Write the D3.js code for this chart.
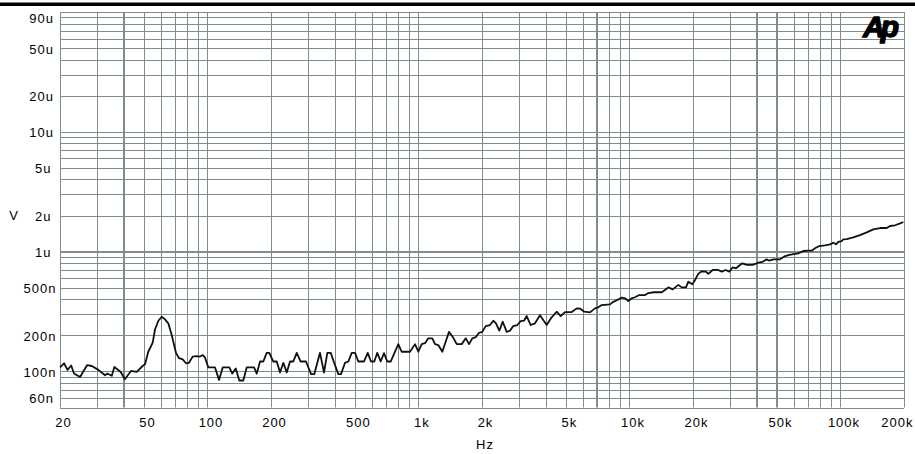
<!DOCTYPE html>
<html>
<head>
<meta charset="utf-8">
<script src="https://cdn.jsdelivr.net/npm/d3@7"></script>
<style>
  html, body { margin: 0; padding: 0; background: #ffffff; }
  svg { display: block; }
  .lbl { font-family: "Liberation Sans", Arial, sans-serif; font-size: 13px; fill: #000; letter-spacing: 1px; }
</style>
</head>
<body>
<svg id="chart" width="915" height="454"></svg>
<script>
// Noise spectrum, 20 Hz – 200 kHz
const freqHz = [
  20, 20.9, 21.7, 22.6, 23.3, 24.9, 26.9, 28.3, 30.4, 32.7, 33.5, 35.2, 36.2, 38.8, 40.6, 43.4, 46.2, 49.3, 50.6, 52.4,
  55.0, 56.4, 58.5, 60.7, 62.9, 65.2, 67.7, 70.9, 73.3, 76.3, 79.1, 81.7, 85.1, 88.9, 92.2, 94.9, 97.3, 100.9, 108.6, 113.4,
  118.1, 126.9, 131.1, 136.1, 141.5, 147.8, 153.4, 166.2, 171.2, 177.5, 183.9, 190.8, 196.3, 205.1, 212.9, 220.7, 228.8, 237.4, 246.1, 255.1,
  264.8, 276.6, 293.1, 309.6, 320.9, 341.4, 356.7, 369.8, 383.7, 399.1, 416.9, 429.4, 448.6, 465.1, 482.7, 500.4, 518.7, 551.9, 574.6, 595.6,
  617.5, 637.9, 662.0, 686.2, 711.4, 738.3, 802.2, 832.5, 911.8, 962.9, 998.2, 1036, 1074, 1113, 1163, 1198, 1241, 1297, 1395, 1452,
  1518, 1603, 1675, 1736, 1800, 1867, 1935, 2006, 2082, 2182, 2263, 2330, 2416, 2507, 2619, 2715, 2814, 2940, 3051, 3163,
  3257, 3403, 3566, 3767, 4049, 4278, 4518, 4721, 4947, 5324, 5623, 5829, 6088, 6499, 6864, 7116, 7385, 8087, 8384, 8757,
  9188, 9524, 9873, 10245, 10620, 11130, 11850, 12290, 13070, 14220, 14740, 15280, 16030, 17030, 17680, 18530, 19000, 19850, 20440, 21180,
  21980, 23040, 23630, 24790, 26350, 27350, 28570, 29720, 30840, 31970, 34240, 35930, 38350, 40770, 42780, 44690, 45970, 48020, 51680, 53990,
  56580, 59760, 63120, 66660, 70380, 73050, 75720, 79350, 84460, 89190, 92450, 95220, 97640, 101300, 103100, 107000, 115000, 123700, 133200, 143100,
  154000, 165600, 171700, 181400, 191700, 198500
];
const noiseNV = [
  108, 117, 103, 112, 96, 90, 113, 111, 103, 93, 96, 92, 109, 99, 86, 101, 99, 111, 115, 146,
  174, 224, 265, 286, 272, 252, 201, 143, 129, 126, 117, 118, 133, 134, 133, 137, 131, 108, 108, 85,
  108, 108, 96, 106, 84, 84, 108, 108, 96, 121, 121, 143, 143, 121, 121, 98, 118, 98, 121, 121,
  143, 121, 121, 95, 95, 143, 98, 143, 143, 117, 95, 95, 118, 121, 143, 143, 121, 121, 143, 121,
  121, 143, 121, 142, 121, 121, 169, 146, 146, 169, 146, 169, 172, 189, 189, 169, 166, 146, 214, 195,
  169, 169, 189, 169, 189, 193, 210, 214, 239, 244, 265, 252, 219, 260, 214, 219, 239, 244, 263, 265,
  290, 244, 252, 294, 244, 283, 315, 290, 313, 313, 336, 335, 316, 311, 336, 343, 358, 363, 381, 395,
  413, 408, 387, 408, 416, 434, 434, 451, 458, 458, 478, 503, 484, 528, 503, 503, 561, 533, 580, 652,
  685, 680, 652, 703, 703, 680, 703, 680, 740, 726, 799, 774, 774, 808, 823, 863, 840, 863, 863, 907,
  936, 954, 967, 1012, 1018, 1018, 1066, 1113, 1128, 1150, 1186, 1150, 1208, 1225, 1264, 1272, 1314, 1375, 1448, 1535,
  1574, 1574, 1636, 1659, 1722, 1768
];

// Axis labels
const xTickValues = [20, 50, 100, 200, 500, 1000, 2000, 5000, 10000, 20000, 50000, 100000, 200000];
const xTickLabels = ["20", "50", "100", "200", "500", "1k", "2k", "5k", "10k", "20k", "50k", "100k", "200k"];
const yTickValues = [90e-6, 50e-6, 20e-6, 10e-6, 5e-6, 2e-6, 1e-6, 500e-9, 200e-9, 100e-9, 60e-9];
const yTickLabels = ["90u", "50u", "20u", "10u", "5u", "2u", "1u", "500n", "200n", "100n", "60n"];

// Emphasised grid lines
const heavyFreqs = [40, 7000, 40000, 50000];
const heavyVolts = [1e-6];

const svg = d3.select("#chart");
const plotLeft = 60, plotRight = 904, plotTop = 12, plotBottom = 407.5;

const x = d3.scaleLog().domain([20, 200000]).range([plotLeft, plotRight]);
const y = d3.scaleLog().domain([50e-9, 100e-6]).range([plotBottom, plotTop]);

const gridColor = "#7f8d8d";
const isHeavy = (list, v) => list.some(h => Math.abs(h - v) / h < 1e-6);

// Header rule
svg.append("rect").attr("x", 0).attr("y", 2.5).attr("width", 915).attr("height", 3.5).attr("fill", "#000");

// Grid
const grid = svg.append("g");
x.ticks().forEach(t => {
  const heavy = isHeavy(heavyFreqs, t);
  const px = heavy ? Math.round(x(t)) : Math.round(x(t)) + 0.5;
  grid.append("line")
    .attr("x1", px).attr("x2", px).attr("y1", plotTop).attr("y2", plotBottom)
    .attr("stroke", gridColor).attr("stroke-width", heavy ? 2 : 1);
});
y.ticks().forEach(t => {
  const heavy = isHeavy(heavyVolts, t);
  const py = heavy ? Math.round(y(t)) : Math.round(y(t)) + 0.5;
  grid.append("line")
    .attr("x1", plotLeft).attr("x2", plotRight).attr("y1", py).attr("y2", py)
    .attr("stroke", gridColor).attr("stroke-width", heavy ? 2 : 1);
});

// Trace
const data = freqHz.map((f, i) => ({ f: f, v: noiseNV[i] * 1e-9 }));
svg.append("path")
  .datum(data)
  .attr("fill", "none")
  .attr("stroke", "#111")
  .attr("stroke-width", 1.8)
  .attr("stroke-linejoin", "round")
  .attr("d", d3.line().x(d => x(d.f)).y(d => y(d.v)));

// X axis labels
const xAxis = svg.append("g")
  .attr("transform", `translate(0,${plotBottom})`)
  .call(d3.axisBottom(x).tickValues(xTickValues)
    .tickFormat((d, i) => xTickLabels[i]).tickSize(0).tickPadding(10));
xAxis.select(".domain").remove();
xAxis.attr("font-family", null).attr("font-size", null);
xAxis.selectAll("text")
  .attr("class", "lbl")
  .attr("dx", 3)
  .each(function (d, i) {
    if (i === xTickValues.length - 1) d3.select(this).attr("text-anchor", "end").attr("dx", 9);
  });

// Y axis labels
const yAxis = svg.append("g")
  .attr("transform", `translate(${plotLeft},0)`)
  .call(d3.axisLeft(y).tickValues(yTickValues)
    .tickFormat((d, i) => yTickLabels[i]).tickSize(0).tickPadding(6));
yAxis.select(".domain").remove();
yAxis.attr("font-family", null).attr("font-size", null);
yAxis.selectAll("text")
  .attr("class", "lbl")
  .attr("dy", "0.38em")
  .attr("dx", (d, i) => (yTickLabels[i].length - 3) * 2.5);

// Axis titles
svg.append("text").attr("class", "lbl").attr("x", 485).attr("y", 449)
  .attr("text-anchor", "middle").text("Hz");
svg.append("text").attr("class", "lbl").attr("x", 14).attr("y", 220)
  .attr("text-anchor", "middle").text("V");

// Logo
svg.append("text")
  .attr("x", 863).attr("y", 37)
  .attr("font-family", "'Liberation Sans', Arial, sans-serif")
  .attr("font-size", 30).attr("font-weight", "bold").attr("font-style", "italic")
  .attr("letter-spacing", "-4px")
  .attr("fill", "#000")
  .attr("stroke", "#000").attr("stroke-width", 1.4).attr("stroke-linejoin", "round")
  .text("Ap");
</script>
</body>
</html>
